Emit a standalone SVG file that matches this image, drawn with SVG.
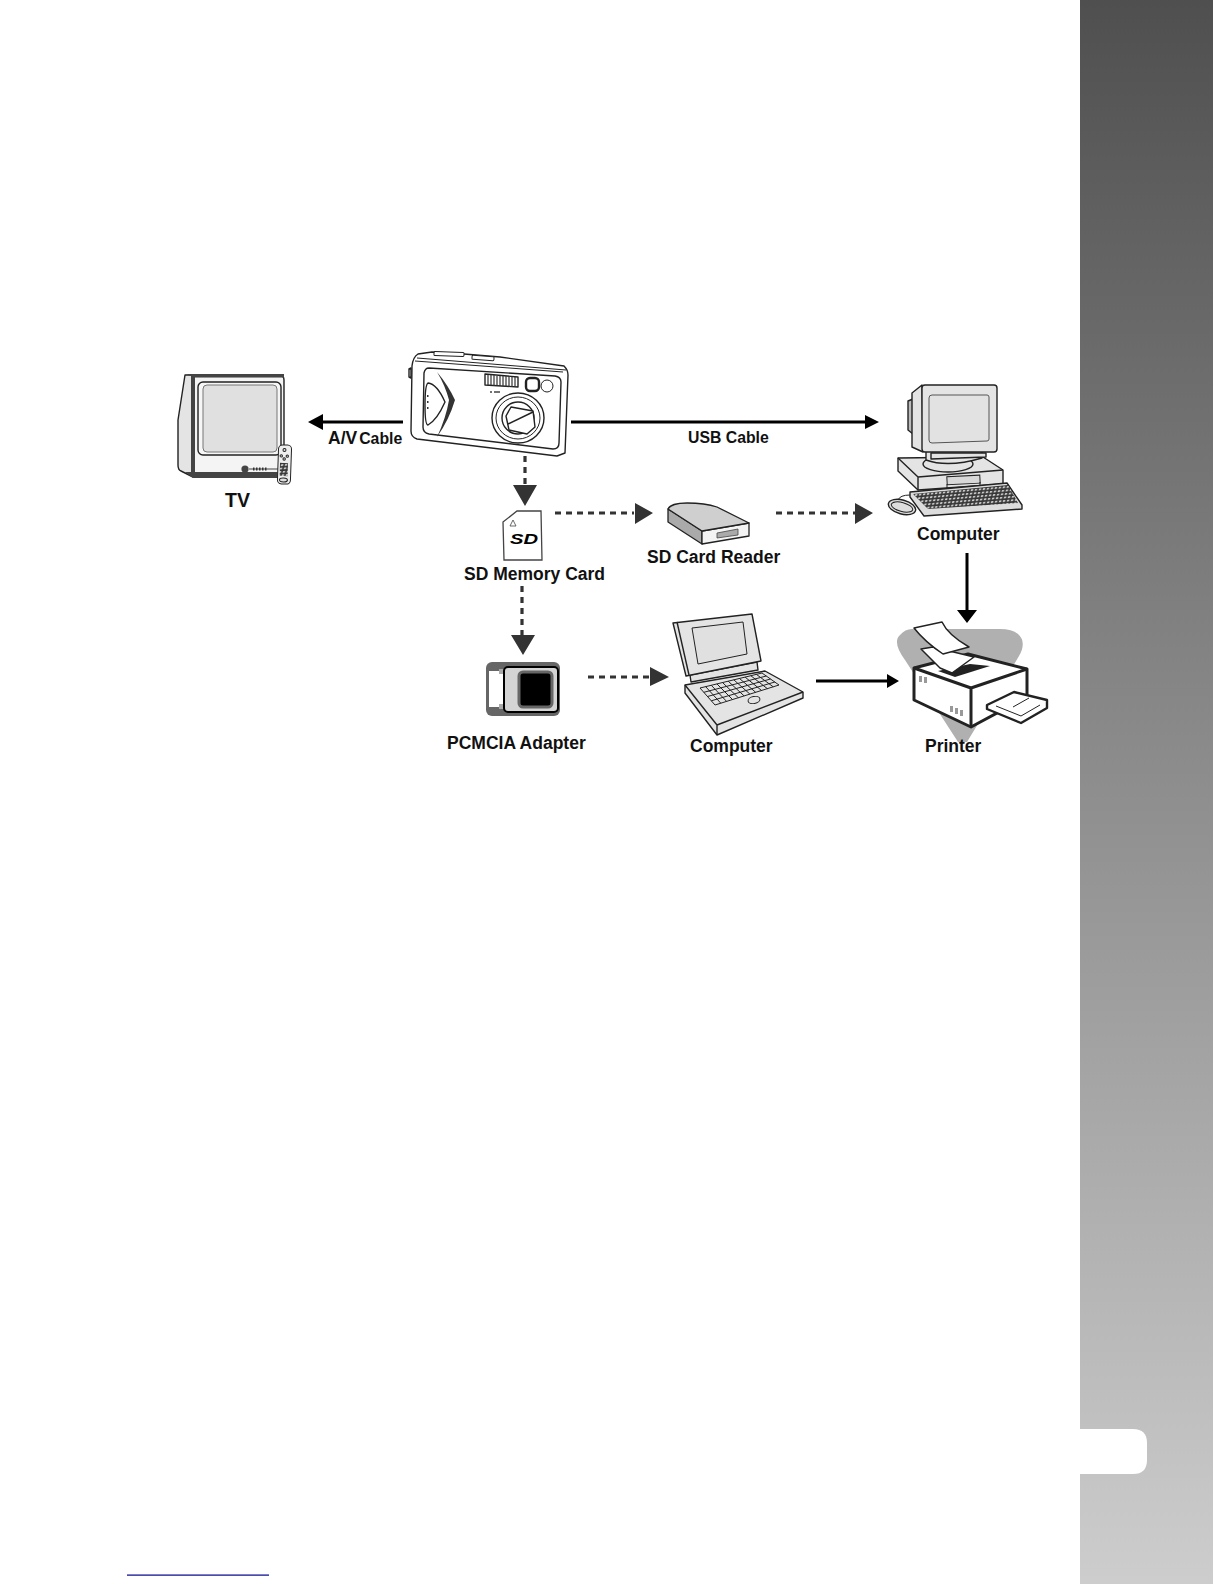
<svg xmlns="http://www.w3.org/2000/svg" width="1224" height="1584" viewBox="0 0 1224 1584">
<style>
.lb{font-family:"Liberation Sans",Arial,sans-serif;font-weight:700;fill:#111;font-size:17.5px}
.d{fill:none;stroke:#333;stroke-width:3.2;stroke-dasharray:6 5}
.s{fill:none;stroke:#000;stroke-width:3}
.l{stroke:#222;stroke-width:1.4;stroke-linejoin:round}
.t{stroke:#222;stroke-width:1}
.p{stroke:#222;stroke-width:3;stroke-linejoin:round}
</style>
<defs>
<linearGradient id="bar" x1="0" y1="0" x2="0" y2="1"><stop offset="0" stop-color="#4f4f4f"/><stop offset="1" stop-color="#cdcdcd"/></linearGradient>
<pattern id="keys" width="4" height="3.4" patternUnits="userSpaceOnUse" patternTransform="rotate(-5) skewX(-20)"><rect width="4" height="3.4" fill="#333"/><rect x="0.9" y="0.9" width="2.4" height="1.8" fill="#ccc"/></pattern>
</defs>
<g id="sidebar">
<rect x="1080" y="0" width="133" height="1584" fill="url(#bar)"/>
<path d="M1080 1429H1133Q1147 1429 1147 1443V1460Q1147 1474 1133 1474H1080Z" fill="#fff"/>
</g>
<rect id="footer-link" x="127" y="1574.5" width="142" height="1.2" fill="#00008b"/>
<g id="connectors">
<path class="s" d="M403 422H322M571 422H866M816 681H888M967 553V611"/>
<path d="M308 422L323 414V430ZM879 422L865 415V429ZM899 681L887 674V688ZM967 623L957 610H977Z" fill="#000"/>
<path class="d" d="M525 456V486M555 513H634M776 513H855M522 586V636M588 677H651"/>
<path d="M525 506L513 485H537ZM653 513L635 503V524ZM873 513L855 503V524ZM523 655L511 635H535ZM669 677L650 667V686Z" fill="#333"/>
</g>
<g id="tv">
<path class="l" d="M185 375L280 375Q284 376 284 380V477H193L181 471Q178 470 178 465L178 420Z" fill="#e4e4e4"/>
<rect x="193" y="378" width="90" height="94" fill="#f4f4f4"/>
<path d="M186 374H284V377.5H195V472H191V376Z" fill="#444"/>
<path d="M185 472H283V478H193Z" fill="#444"/>
<rect class="l" x="198" y="382" width="83" height="73" rx="5" fill="#f6f6f6"/>
<rect x="203" y="385" width="74" height="67" rx="4" fill="#e0e0e0" stroke="#777"/>
<circle cx="245" cy="469" r="3.6" fill="#444"/>
<path d="M249 469H279" stroke="#444" stroke-width="1"/>
<path d="M253 469h1.5M256 469h1.5M259 469h1.5M262 469h1.5M265 469h1.5" stroke="#333" stroke-width="3"/>
<g transform="rotate(2 284 464)">
<rect class="t" x="278" y="445" width="13" height="39" rx="4" fill="#eee"/>
<circle class="t" cx="284" cy="450" r="1.5" fill="#ddd"/><circle class="t" cx="281" cy="456" r="1.2" fill="#ddd"/><circle class="t" cx="287" cy="456" r="1.2" fill="#ddd"/><circle class="t" cx="284" cy="459" r="1.2" fill="#ddd"/>
<rect x="280" y="463" width="8" height="13" fill="url(#keys)"/>
<ellipse class="t" cx="284" cy="480" rx="4" ry="2" fill="#ddd"/>
</g>
</g>
<text class="lb" x="225" y="507" style="font-size:19.5px">TV</text>
<text class="lb" x="328" y="444"><tspan style="font-size:17.5px">A/V</tspan><tspan dx="2" style="font-size:15.8px">Cable</tspan></text>
<text class="lb" x="688" y="443" style="font-size:15.8px">USB Cable</text>
<g id="camera">
<path class="l" d="M409 369L411 368V378L409 377Z" fill="#fff"/>
<path class="l" d="M418 354L432 352L464 354L500 357L564 366Q568 370 568 375L565 453L557 456L417 439Q411 437 411 431L412 366Q413 357 418 354Z" fill="#fff"/>
<path class="t" fill="none" d="M415 361L563 372M417 358L566 370"/>
<rect class="t" fill="#fff" x="434" y="352" width="30" height="4" rx="1" transform="rotate(2 449 354)"/>
<rect class="t" fill="#fff" x="472" y="356" width="22" height="4" rx="1" transform="rotate(4 483 358)"/>
<path class="l" fill="#fff" d="M429 368L555 376Q561 377 561 382L559 443Q559 449 553 449L429 434Q423 433 423 427L424 373Q425 368 429 368Z"/>
<path d="M437 372Q448 385 455 400Q449 420 437 437Q446 418 449 400Q445 385 437 372Z" fill="#333"/>
<path class="l" fill="#fff" d="M428 383Q437 384 445 402Q437 420 428 425Q425 425 425 405Q425 385 428 383Z"/>
<path d="M427 396h1.5M427 402h1.5M427 408h1.5" stroke="#333" stroke-width="2"/>
<path class="l" d="M485 374L518 377V387L485 385Z" fill="#fff"/>
<path d="M488 375V385M491 375V385M494 375V386M497 376V386M500 376V386M503 376V386M506 376V387M509 376V387M512 377V387M515 377V387" stroke="#333" stroke-width="1.2"/>
<rect class="l" fill="#fff" x="526" y="378" width="13" height="13" rx="4" style="stroke-width:2.4"/>
<circle class="t" fill="#fff" cx="547" cy="386" r="6"/>
<path d="M490 392h2M494 392h6" stroke="#444" stroke-width="1.5"/>
<ellipse class="l" fill="#fff" cx="518" cy="418" rx="26" ry="25"/>
<ellipse class="t" fill="#fff" cx="518" cy="418" rx="22" ry="21"/>
<ellipse class="l" fill="#fff" cx="518" cy="418" rx="16" ry="16"/>
<path class="l" d="M511 407L533 411L535 427L527 434L509 430L506 416Z" fill="#fff"/>
<path class="l" fill="none" d="M508 424L533 412"/>
</g>
<g id="sd-card">
<path d="M503 522L517 511H541L542 560H504Z" fill="#fff" stroke="#444" stroke-width="1.3"/>
<path d="M513 520L516 526H510Z" fill="#fff" stroke="#444" stroke-width="0.8"/>
<text x="510" y="544" font-family="Liberation Sans,sans-serif" font-weight="700" font-style="italic" font-size="15" textLength="28" lengthAdjust="spacingAndGlyphs" fill="#000">SD</text>
</g>
<text class="lb" x="464" y="580">SD Memory Card</text>
<g id="card-reader">
<path d="M668 509V522L702 544V531Z" fill="#aaa" stroke="#222" stroke-width="1.3" stroke-linejoin="round"/>
<path d="M702 531L749 523V536L702 544Z" fill="#f4f4f4" stroke="#222" stroke-width="1.3" stroke-linejoin="round"/>
<path d="M668 509Q671 503 687 503Q705 503 717 507L749 523L702 531Z" fill="#cfcfcf" stroke="#222" stroke-width="1.3" stroke-linejoin="round"/>
<path d="M717 533L738 529V535L717 538Z" fill="#aaa" stroke="#444" stroke-width="0.8"/>
</g>
<text class="lb" x="647" y="563">SD Card Reader</text>
<g id="desktop-computer">
<path class="l" d="M898 458L983 457L1003 470V484L918 490L898 471Z" fill="#e4e4e4"/>
<path class="l" fill="none" d="M898 458L918 477L1003 470M918 477V490"/>
<rect class="t" x="947" y="476" width="33" height="8" fill="#d8d8d8" transform="rotate(-3 963 480)"/>
<path class="t" d="M947 484V488M980 482V486"/>
<ellipse class="l" cx="948" cy="464" rx="25" ry="8" fill="#e4e4e4"/>
<path class="l" d="M926 448V460Q948 468 982 458V448Z" fill="#e4e4e4"/>
<path class="l" d="M931 453H986V457L931 459Z" fill="#e4e4e4"/>
<path class="l" d="M908 401L913 399V434L908 430Z" fill="#bbb"/>
<path class="l" d="M922 385L912 393V447L923 452Z" fill="#e4e4e4"/>
<rect class="l" x="922" y="385" width="75" height="67" rx="3" fill="#e4e4e4"/>
<path d="M932 395H987Q989 395 989 397V439Q989 441 987 441L932 443Q929 443 929 440V398Q929 395 932 395Z" fill="#e2e2e2" stroke="#555" stroke-width="1"/>
<path class="t" fill="none" d="M910 495Q900 495 898 500"/>
<ellipse class="l" cx="902" cy="507" rx="14" ry="7" transform="rotate(15 902 507)" fill="#ddd"/>
<ellipse class="t" fill="none" cx="902" cy="507" rx="11" ry="4.5" transform="rotate(15 902 507)"/>
<path class="l" d="M910 492L1007 483L1022 505V509L924 516L910 497Z" fill="#ddd"/>
<path d="M913 494L1008 485L1018 503L928 509Z" fill="url(#keys)"/>
</g>
<text class="lb" x="917" y="540">Computer</text>
<g id="pcmcia-adapter">
<rect x="486" y="662" width="74" height="54" rx="6" fill="#666"/>
<rect x="489" y="671" width="16" height="36" fill="#fff"/>
<rect x="499" y="669" width="6" height="5" fill="#aaa"/><rect x="499" y="704" width="6" height="5" fill="#aaa"/>
<rect x="504" y="667" width="54" height="45" rx="4" fill="#d4d4d4" stroke="#000" stroke-width="2"/>
<rect x="519" y="672" width="33" height="35" rx="4" fill="#000" stroke="#666" stroke-width="3"/>
</g>
<text class="lb" x="447" y="749">PCMCIA Adapter</text>
<g id="laptop">
<path class="l" d="M685 685L765 671L803 692V698L717 735L685 693Z" fill="#e4e4e4"/>
<path class="l" fill="none" d="M685 685L717 725L803 692M717 725V735" />
<path class="l" d="M690 675L691 682L758 670L757 662Z" fill="#e4e4e4"/>
<path class="l" d="M673 623L752 614L761 661L686 676Z" fill="#e4e4e4"/>
<path class="l" fill="none" d="M677 622L689 675"/>
<path class="l" d="M692 628L743 622L747 654L698 664Z" fill="#e0e0e0" style="stroke-width:1"/>
<path class="t" fill="none" d="M700 688L715 705L779 685L762 673ZM703.8 692.3L766.3 676M707.5 696.5L770.5 679M711.3 700.8L774.8 682M705.6 686.6L720.8 703.2M711.3 685.3L726.6 701.4M716.9 683.9L732.5 699.5M722.5 682.5L738.3 697.7M728.2 681.2L744.1 695.9M733.8 679.8L749.9 694.1M739.5 678.5L755.7 692.3M745.1 677.1L761.6 690.5M750.8 675.7L767.4 688.7M756.4 674.4L773.2 686.8"/>
<ellipse class="t" fill="none" cx="754" cy="700" rx="6" ry="3.5" transform="rotate(-10 754 700)"/>
</g>
<text class="lb" x="690" y="752">Computer</text>
<g id="printer">
<path d="M912 629H1000Q1012 629 1018 634Q1027 642 1019 656L967 742H958L905 660Q892 642 900 635Q905 629 912 629Z" fill="#b0b0b0"/>
<path class="p" d="M914 668L968 654L1027 669V697L971 727L914 700Z" fill="#fff"/>
<path class="p" fill="none" d="M914 668L971 688L1027 669M971 688V727"/>
<path d="M938 671L970 664L990 666L955 677Z" fill="#222"/>
<path d="M921 649L933 647L974 657L952 673L940 668Q930 658 921 649Z" fill="#fff" stroke="#222" stroke-width="1.5" stroke-linejoin="round"/>
<path d="M914 628L942 622Q948 635 969 647L943 654Q925 642 914 628Z" fill="#fff" stroke="#222" stroke-width="1.5" stroke-linejoin="round"/>
<path d="M987 705L1014 692L1047 700V708L1021 723L987 709Z" fill="#fff" stroke="#222" stroke-width="2.4" stroke-linejoin="round"/>
<path class="t" fill="none" d="M996 706L1021 716L1040 705M1013 707L1029 698"/>
<path d="M919 676h3v6h-3zM924 677h3v6h-3zM950 706h3v6h-3zM955 708h3v6h-3zM960 710h3v6h-3z" fill="#999"/>
</g>
<text class="lb" x="925" y="752">Printer</text>
</svg>
